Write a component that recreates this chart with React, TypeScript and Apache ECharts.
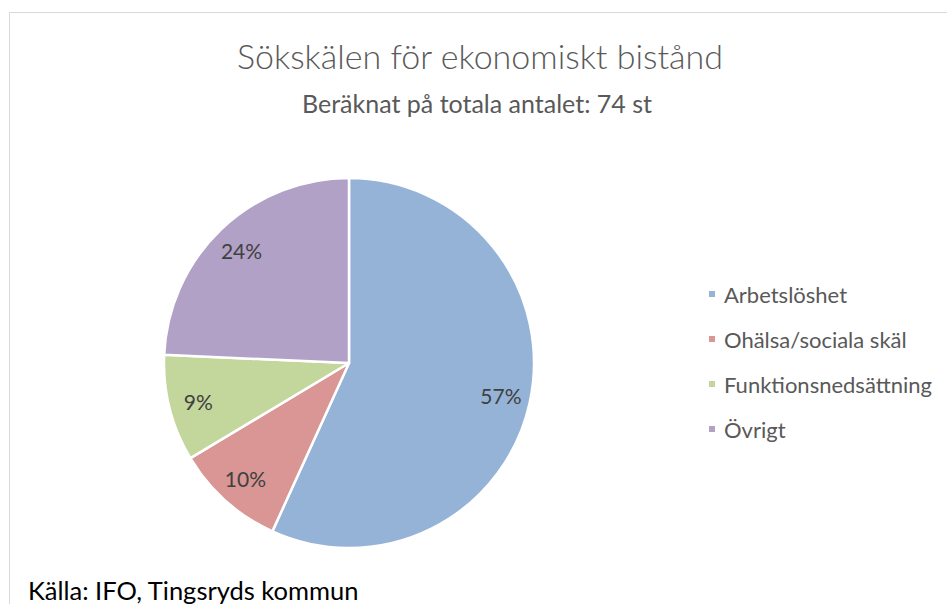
import React, { useEffect, useRef } from "react";
import * as echarts from "echarts";

const titleText = "Sökskälen för ekonomiskt bistånd";
const subtitleText = "Beräknat på totala antalet: 74 st";
const sourceText = "Källa: IFO, Tingsryds kommun";
const categories = ["Arbetslöshet", "Ohälsa/sociala skäl", "Funktionsnedsättning", "Övrigt"];
const values = [56.8, 9.6, 9.3, 24.3];
const colors = ["#95b3d7", "#d99694", "#c3d69b", "#b2a1c7"];

const FONT = "Lato, 'Open Sans', sans-serif";

export default function App() {
  const ref = useRef<HTMLDivElement>(null);
  useEffect(() => {
    if (!ref.current) return;
    const chart = echarts.init(ref.current, null, { renderer: "svg" });
    const data = categories.map((name, i) => ({ name, value: values[i], itemStyle: { color: colors[i] } }));
    chart.setOption({
      animation: false,
      backgroundColor: "#ffffff",
      legend: {
        orient: "vertical",
        left: 707,
        top: 283,
        padding: 0,
        icon: "rect",
        itemWidth: 8,
        itemHeight: 8,
        itemGap: 23,
        data: categories,
        selectedMode: false,
        textStyle: { fontFamily: FONT, fontSize: 22, color: "#595959", lineHeight: 22, padding: [0, 0, 0, 3] },
      },
      graphic: [
        { type: "line", shape: { x1: 9.5, y1: 12.5, x2: 947, y2: 12.5 }, style: { stroke: "#d9d9d9", lineWidth: 1 } },
        { type: "line", shape: { x1: 9.5, y1: 12.5, x2: 9.5, y2: 604 }, style: { stroke: "#d9d9d9", lineWidth: 1 } },
        {
          type: "text",
          x: 480,
          y: 72,
          style: { text: titleText, fontFamily: FONT, fontWeight: 300, fontSize: 34, fill: "#595959", textAlign: "center", textVerticalAlign: "bottom" },
        },
        {
          type: "text",
          x: 477,
          y: 115,
          style: { text: subtitleText, fontFamily: FONT, fontSize: 25, fill: "#595959", textAlign: "center", textVerticalAlign: "bottom" },
        },
        {
          type: "text",
          x: 28,
          y: 603,
          style: { text: sourceText, fontFamily: FONT, fontSize: 25.5, fill: "#000000", textAlign: "left", textVerticalAlign: "bottom" },
        },
      ],
      series: [
        {
          type: "pie",
          center: [349, 363],
          radius: [0, 185],
          startAngle: 90,
          clockwise: true,
          data,
          label: { show: false },
          labelLine: { show: false },
          itemStyle: { borderColor: "#ffffff", borderWidth: 2.5 },
          emphasis: { disabled: true },
          silent: true,
        },
        {
          type: "pie",
          center: [349, 363],
          radius: [120, 185],
          startAngle: 90,
          clockwise: true,
          percentPrecision: 0,
          data: categories.map((name, i) => ({ name, value: values[i] })),
          itemStyle: { color: "rgba(0,0,0,0)" },
          label: {
            show: true,
            position: "inside",
            formatter: "{d}%",
            fontFamily: FONT,
            fontSize: 21,
            color: "#404040",
          },
          labelLine: { show: false },
          emphasis: { disabled: true },
          silent: true,
        },
      ],
    });
    return () => chart.dispose();
  }, []);
  return <div ref={ref} style={{ position: "fixed", left: 0, top: 0, width: 947, height: 604 }} />;
}
